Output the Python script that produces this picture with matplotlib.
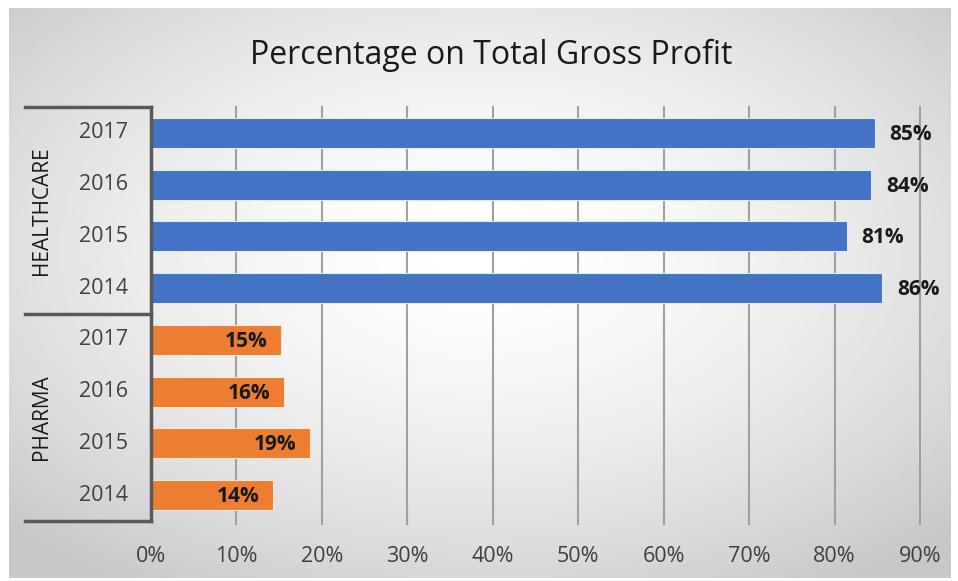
import numpy as np
import matplotlib.pyplot as plt
from matplotlib.transforms import blended_transform_factory

plt.rcParams['font.family'] = ['Open Sans', 'DejaVu Sans']

# Datos
grupos = ['HEALTHCARE', 'PHARMA']
anios = ['2017', '2016', '2015', '2014']
healthcare = [0.847, 0.843, 0.814, 0.856]
pharma = [0.152, 0.156, 0.186, 0.143]
ticks = [0, 0.1, 0.2, 0.3, 0.4, 0.5, 0.6, 0.7, 0.8, 0.9]

azul = '#4472C4'
naranja = '#ED7D31'

fig = plt.figure(figsize=(9.58, 5.81), dpi=100)

# Fondo con degradado radial
fondo = fig.add_axes([9 / 958, 3 / 581, 941 / 958, 570 / 581], zorder=-10)
gx, gy = np.meshgrid(np.linspace(-1, 1, 400), np.linspace(-1, 1, 250))
r = np.clip(np.sqrt(gx ** 2 + (gy + 0.15) ** 2) / np.sqrt(2), 0, 1)
gris = 1.0 - 0.22 * r ** 1.6
fondo.imshow(gris, cmap='gray', vmin=0, vmax=1, aspect='auto',
             extent=[0, 1, 0, 1], interpolation='bilinear')
fondo.axis('off')

ax = fig.add_axes([151 / 958, 1 - 521 / 581, 769 / 958, 414 / 581])
ax.patch.set_alpha(0)

valores = healthcare + pharma
colores = [azul] * len(healthcare) + [naranja] * len(pharma)
y = np.arange(len(valores))
barras = ax.barh(y, valores, height=0.58, color=colores,
                 edgecolor='#dfe8f7', linewidth=0.8, zorder=3)
for b, c in zip(barras, colores):
    if c == naranja:
        b.set_edgecolor('#fde3d0')

ax.set_xlim(0, 0.9)
ax.set_ylim(len(valores) - 0.5, -0.5)
ax.set_xticks(ticks)
ax.set_xticklabels([f'{int(round(t * 100))}%' for t in ticks],
                   fontsize=15.5, color='#404040')
ax.tick_params(axis='x', length=0, pad=18)
ax.set_yticks([])
for s in ['top', 'right', 'bottom']:
    ax.spines[s].set_visible(False)
ax.spines['left'].set_color('#595959')
ax.spines['left'].set_linewidth(2.5)
ax.spines['left'].set_zorder(5)

# Lineas de cuadricula verticales
for t in ticks[1:]:
    ax.plot([t, t], [-0.5, len(valores) - 0.45], color='#a0a0a0', lw=1.5,
            zorder=1, clip_on=False)

# Etiquetas de datos
for i, v in enumerate(healthcare):
    ax.text(v + 0.017, i + 0.03, f'{round(v * 100):.0f}%', va='center',
            ha='left', fontsize=15, fontweight='bold', color='#1a1a1a')
for i, v in enumerate(pharma):
    ax.text(v - 0.016, i + len(healthcare) + 0.03, f'{round(v * 100):.0f}%',
            va='center', ha='right', fontsize=15, fontweight='bold',
            color='#1a1a1a', zorder=4)

# Eje de categorias agrupado
tr = blended_transform_factory(ax.transAxes, ax.transData)
for yy in [-0.5, 3.5, 7.5]:
    ax.plot([-0.164, 0], [yy, yy], transform=tr, color='#595959', lw=2.5,
            clip_on=False, zorder=5)
for i, a in enumerate(anios + anios):
    ax.text(-0.062, i, a, transform=tr, ha='center', va='center',
            fontsize=15.5, color='#404040')
for g, yc in zip(grupos, [1.5, 5.5]):
    ax.text(-0.142, yc, g, transform=tr, ha='center', va='center',
            rotation=90, fontsize=15, color='#1a1a1a')

fig.text(491 / 958, 1 - 55 / 581, 'Percentage on Total Gross Profit',
         ha='center', va='center', fontsize=23, color='#1a1a1a')

fig.savefig('out.png', dpi=100)
